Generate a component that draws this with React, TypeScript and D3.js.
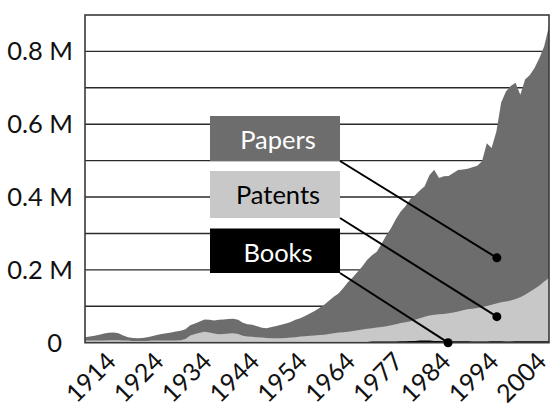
import React from "react";
import * as d3 from "d3";

// Category axis: 98 positions, labelled every 10th starting at index 7
const tickLabels = ["1914", "1924", "1934", "1944", "1954", "1964", "1977", "1984", "1994", "2004"];
const tickIndices = [7, 17, 27, 37, 47, 57, 67, 77, 87, 97];

// Values in millions
const papers = [
  0.015, 0.017, 0.019, 0.022, 0.025, 0.027, 0.028, 0.026, 0.02, 0.015,
  0.013, 0.012, 0.013, 0.015, 0.018, 0.021, 0.024, 0.026, 0.028, 0.031,
  0.033, 0.037, 0.048, 0.053, 0.058, 0.064, 0.063, 0.061, 0.063, 0.064,
  0.065, 0.066, 0.063, 0.055, 0.051, 0.049, 0.045, 0.041, 0.04, 0.043,
  0.046, 0.049, 0.053, 0.057, 0.063, 0.067, 0.073, 0.08, 0.087, 0.095,
  0.104, 0.115, 0.126, 0.135, 0.15, 0.167, 0.18, 0.195, 0.21, 0.228,
  0.24, 0.25, 0.272, 0.295, 0.315, 0.34, 0.36, 0.375, 0.395, 0.405,
  0.418, 0.43, 0.46, 0.475, 0.452, 0.457, 0.458, 0.466, 0.474, 0.476,
  0.478, 0.482, 0.486, 0.498, 0.548, 0.535, 0.58, 0.66, 0.69, 0.705,
  0.714, 0.681, 0.723, 0.735, 0.755, 0.782, 0.814, 0.87,
];
const patents = [
  0.006, 0.006, 0.006, 0.006, 0.006, 0.007, 0.007, 0.007, 0.006, 0.006,
  0.005, 0.005, 0.005, 0.005, 0.006, 0.006, 0.006, 0.006, 0.006, 0.006,
  0.007, 0.01, 0.02, 0.024, 0.027, 0.03, 0.028, 0.025, 0.023, 0.024,
  0.025, 0.026, 0.024, 0.019, 0.017, 0.016, 0.015, 0.014, 0.013, 0.012,
  0.012, 0.012, 0.013, 0.014, 0.015, 0.017, 0.018, 0.019, 0.02, 0.021,
  0.022, 0.024, 0.026, 0.028, 0.029, 0.03, 0.032, 0.034, 0.036, 0.038,
  0.04, 0.042, 0.043, 0.045, 0.048, 0.051, 0.054, 0.056, 0.059, 0.063,
  0.067, 0.071, 0.075, 0.077, 0.078, 0.079, 0.081, 0.083, 0.086, 0.089,
  0.092, 0.093, 0.095, 0.098, 0.101, 0.104, 0.108, 0.111, 0.113, 0.116,
  0.12, 0.125, 0.132, 0.14, 0.148, 0.157, 0.168, 0.178,
];
const books = [
  0.001, 0.001, 0.001, 0.001, 0.001, 0.001, 0.001, 0.001, 0.001, 0.001,
  0.001, 0.001, 0.001, 0.001, 0.001, 0.001, 0.001, 0.001, 0.001, 0.001,
  0.001, 0.001, 0.001, 0.001, 0.001, 0.001, 0.001, 0.001, 0.001, 0.001,
  0.001, 0.001, 0.001, 0.001, 0.001, 0.001, 0.001, 0.001, 0.001, 0.001,
  0.001, 0.001, 0.001, 0.001, 0.001, 0.001, 0.001, 0.001, 0.001, 0.001,
  0.002, 0.002, 0.002, 0.002, 0.002, 0.002, 0.002, 0.002, 0.002, 0.002,
  0.003, 0.003, 0.003, 0.003, 0.003, 0.003, 0.004, 0.004, 0.005, 0.005,
  0.006, 0.006, 0.006, 0.005, 0.005, 0.004, 0.004, 0.004, 0.004, 0.004,
  0.004, 0.003, 0.003, 0.003, 0.003, 0.004, 0.004, 0.004, 0.003, 0.003,
  0.004, 0.004, 0.004, 0.004, 0.004, 0.004, 0.004, 0.004,
];

const yTicks = [0, 0.2, 0.4, 0.6, 0.8];
const yTickLabels = ["0", "0.2 M", "0.4 M", "0.6 M", "0.8 M"];
const gridValues = [0.1, 0.2, 0.3, 0.4, 0.5, 0.6, 0.7, 0.8];

const seriesNames = ["Papers", "Patents", "Books"];
// annotation anchor points (category index, value)
const anchorIndex = [86.1, 86.1, 75.9];
const anchorValue = [0.233, 0.0715, 0];

const W = 560, H = 413;
const L = 85, R = 549, T = 15, B = 342.7;
const FONT = "Lato, 'Open Sans', sans-serif";

export default function App() {
  const x = d3.scaleLinear().domain([0, papers.length - 1]).range([L, R]);
  const y = d3.scaleLinear().domain([0, 0.9]).range([B, T]);
  const area = (vals: number[]) =>
    d3.area<number>().x((_, i) => x(i)).y0(y(0)).y1((d) => y(d))(vals) || "";

  const fills = ["#6d6d6d", "#c8c8c8", "#000000"];
  const textFill = ["#ffffff", "#000000", "#ffffff"];
  const boxX = 210, boxW = 130;
  const boxTop = [116, 171, 228.5];
  const boxH = [45, 47, 44.5];

  return (
    <svg width={W} height={H} style={{ position: "absolute", left: 0, top: 0, background: "#fff" }}>
      {gridValues.map((g) => (
        <line key={g} x1={L} x2={R} y1={y(g)} y2={y(g)} stroke="#2a2a2a" strokeWidth={1.4} />
      ))}
      <path d={area(papers)} fill={fills[0]} />
      <path d={area(patents)} fill={fills[1]} />
      <path d={area(books)} fill={fills[2]} />
      <rect x={L} y={T} width={R - L} height={B - T} fill="none" stroke="#3a3a3a" strokeWidth={1.6} />
      {yTicks.map((t, i) => (
        <text
          key={t}
          x={t === 0 ? 62 : 73}
          y={y(t) + 9}
          textAnchor="end"
          fontFamily={FONT}
          fontSize={25.5}
          fill="#111"
        >
          {yTickLabels[i]}
        </text>
      ))}
      {tickIndices.map((ti, i) => (
        <text
          key={ti}
          transform={`translate(${x(ti) - 1},${363}) rotate(-45)`}
          textAnchor="end"
          fontFamily={FONT}
          fontSize={25}
          fill="#111"
        >
          {tickLabels[i]}
        </text>
      ))}
      {seriesNames.map((n, i) => (
        <g key={n}>
          <rect x={boxX} y={boxTop[i]} width={boxW} height={boxH[i]} fill={fills[i]} />
          <text
            x={boxX + boxW / 2 + 3}
            y={boxTop[i] + 33}
            textAnchor="middle"
            fontFamily={FONT}
            fontSize={25.5}
            fill={textFill[i]}
          >
            {n}
          </text>
          <line
            x1={boxX + boxW}
            y1={boxTop[i] + boxH[i]}
            x2={x(anchorIndex[i])}
            y2={y(anchorValue[i])}
            stroke="#000"
            strokeWidth={2}
          />
          <circle cx={x(anchorIndex[i])} cy={y(anchorValue[i])} r={4.5} fill="#000" />
        </g>
      ))}
    </svg>
  );
}
